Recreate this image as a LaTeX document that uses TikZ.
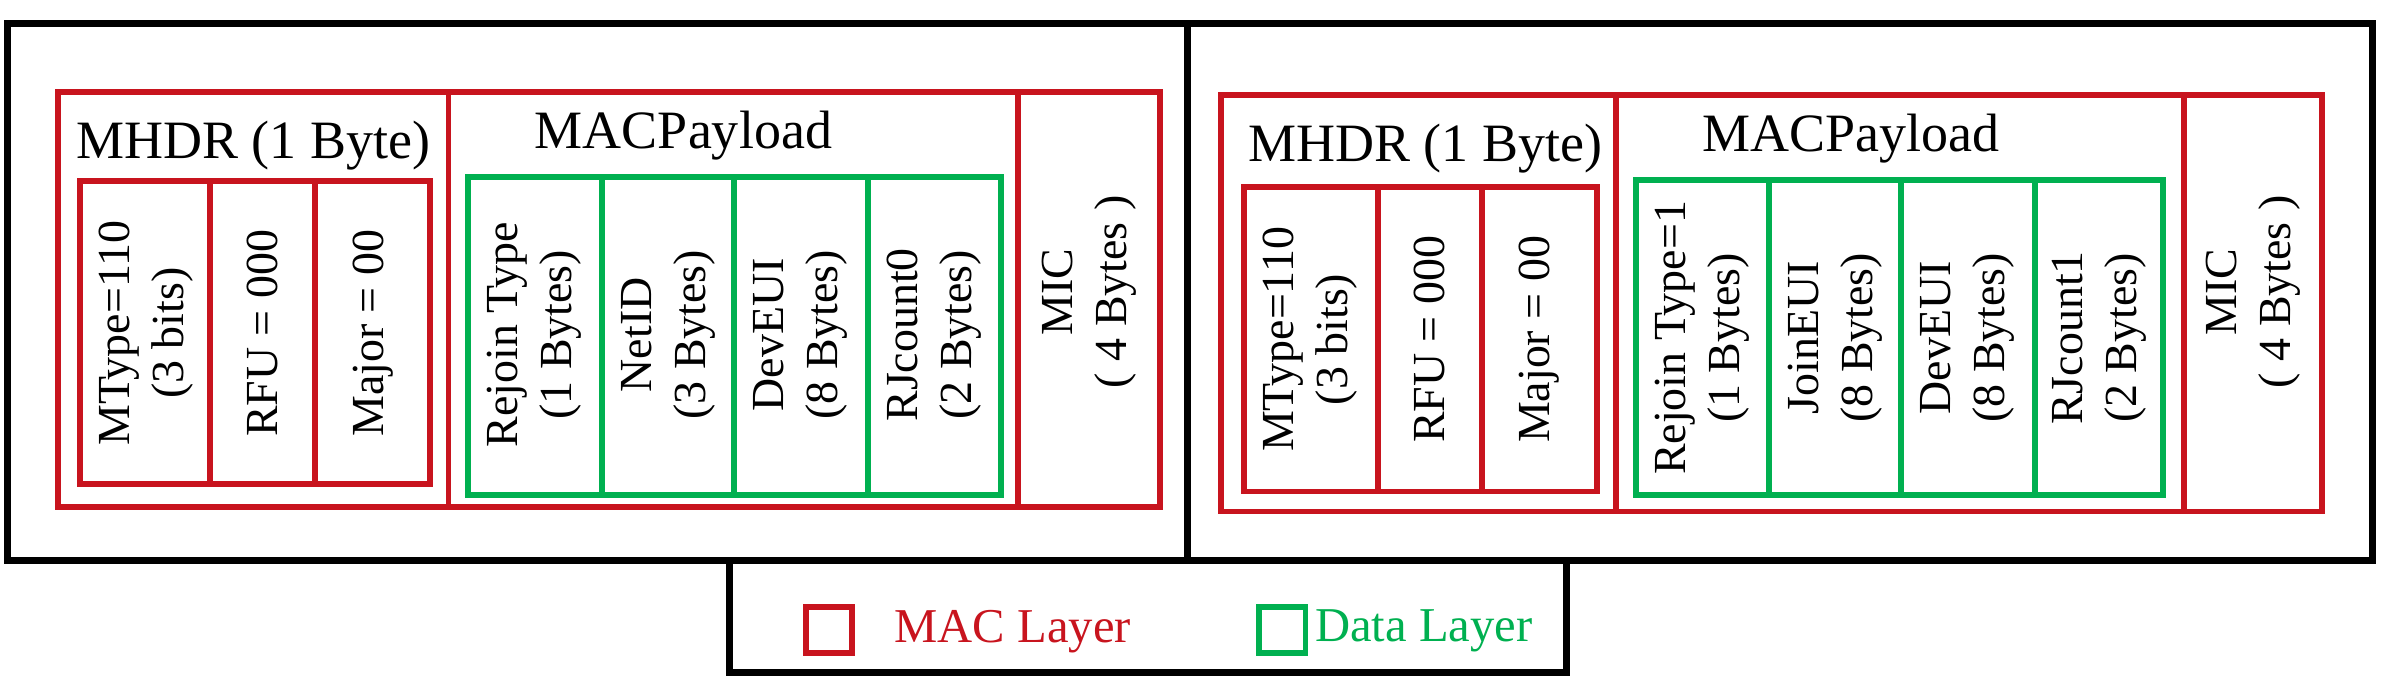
\documentclass[tikz,border=0pt]{standalone}
\usepackage{fontspec}
\setmainfont{Liberation Serif}
\definecolor{mred}{RGB}{200,20,30}
\definecolor{mgreen}{RGB}{0,176,80}
\begin{document}
\begin{tikzpicture}[x=0.01cm,y=-0.01cm,
  blk/.style={draw=black,line width=1.3pt},
  rb/.style={draw=mred,line width=1.1pt},
  gb/.style={draw=mgreen,line width=1.1pt},
  big/.style={font=\fontsize{10}{12}\selectfont},
  rot/.style={rotate=90,align=center,font=\fontsize{8.5}{10}\selectfont}]
\useasboundingbox (0,0) rectangle (1560,450.5);
% outer frame
\draw[blk] (5,15) rectangle (1545,365);
\draw[blk] (773,15) -- (773,365);
\draw[blk] (475,365) rectangle (1020,438);
% left frame
\draw[rb] (38,60) rectangle (755,330);
\draw[rb] (292,60) -- (292,330) (663,60) -- (663,330);
\node[big] (mhdrL) at (165,95) {MHDR (1 Byte)};
\draw[rb] (52,118) rectangle (280,315);
\draw[rb] (137,118) -- (137,315) (205,118) -- (205,315);
\node[rot] (mtL) at (95,217) {MType=110\\(3 bits)};
\node[rot] (rfuL) at (171,217) {RFU = 000};
\node[rot] (majL) at (243,217) {Major = 00};
\node[big] (macL) at (445,88) {MACPayload};
\draw[gb] (305,115) rectangle (652,322);
\draw[gb] (392,115) -- (392,322) (478,115) -- (478,322) (565,115) -- (565,322);
\node[rot] (rjL) at (348,218) {Rejoin Type\\(1 Bytes)};
\node[rot] (niL) at (435,218) {NetID\\(3 Bytes)};
\node[rot] (deL) at (521,218) {DevEUI\\(8 Bytes)};
\node[rot] (rcL) at (608,218) {RJcount0\\(2 Bytes)};
\node[rot] (micL) at (709,190) {MIC\\( 4 Bytes )};
% right frame
\draw[rb] (795,62) rectangle (1512,333);
\draw[rb] (1052,62) -- (1052,333) (1422,62) -- (1422,333);
\node[big] (mhdrR) at (928,97) {MHDR (1 Byte)};
\draw[rb] (810,122) rectangle (1040,320);
\draw[rb] (897,122) -- (897,320) (965,122) -- (965,320);
\node[rot] (mtR) at (853,221) {MType=110\\(3 bits)};
\node[rot] (rfuR) at (931,221) {RFU = 000};
\node[rot] (majR) at (1002,221) {Major = 00};
\node[big] (macR) at (1205,90) {MACPayload};
\draw[gb] (1065,117) rectangle (1408,322);
\draw[gb] (1152,117) -- (1152,322) (1238,117) -- (1238,322) (1325,117) -- (1325,322);
\node[rot] (rjR) at (1108,220) {Rejoin Type=1\\(1 Bytes)};
\node[rot] (jeR) at (1195,220) {JoinEUI\\(8 Bytes)};
\node[rot] (deR) at (1281,220) {DevEUI\\(8 Bytes)};
\node[rot] (rcR) at (1367,220) {RJcount1\\(2 Bytes)};
\node[rot] (micR) at (1467,190) {MIC\\( 4 Bytes )};
% legend
\draw[rb] (525,395) rectangle (555,425);
\node[anchor=west,text=mred,font=\fontsize{9}{11}\selectfont] (lm) at (570,411) {MAC Layer};
\draw[gb] (820,395) rectangle (850,425);
\node[anchor=west,text=mgreen,font=\fontsize{9}{11}\selectfont,inner sep=1pt] (ld) at (852,411) {Data Layer};
\end{tikzpicture}
\end{document}
